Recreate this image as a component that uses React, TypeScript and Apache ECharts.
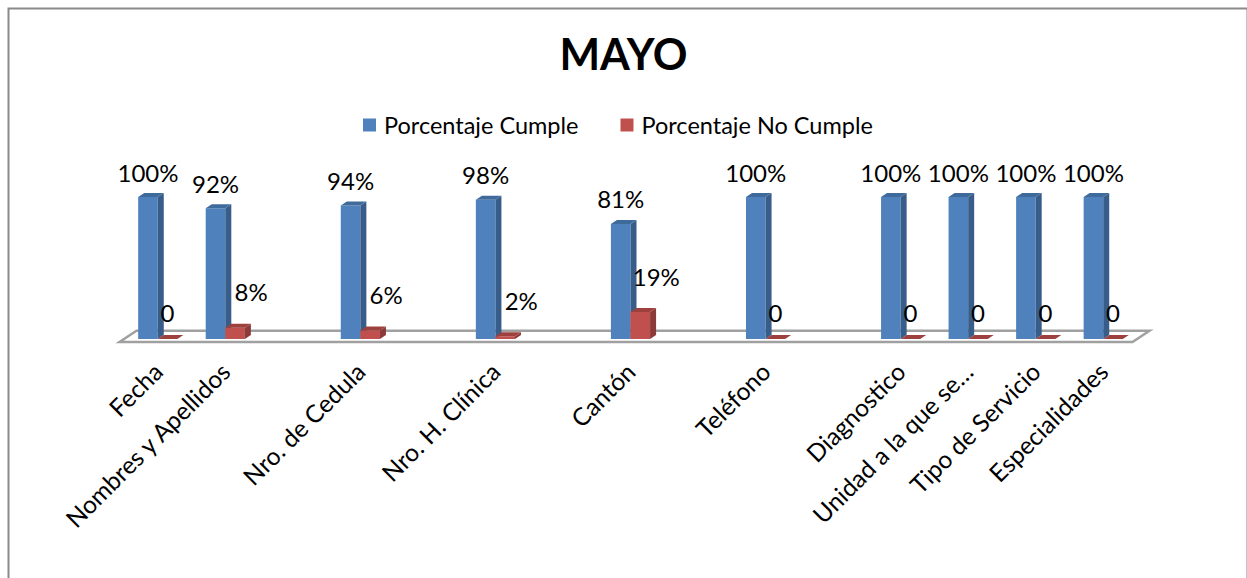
import React, { useEffect, useRef } from "react";
import * as echarts from "echarts";

// Categories along the x axis (blank entries leave an empty slot between groups)
const categories = [
  "Fecha",
  "Nombres y Apellidos",
  "",
  "Nro. de Cedula",
  "",
  "Nro. H. Clínica",
  "",
  "Cantón",
  "",
  "Teléfono",
  "",
  "Diagnostico",
  "Unidad a la que se…",
  "Tipo de Servicio",
  "Especialidades",
];

// Percent values per category (null = empty slot)
const porcentajeCumple = [100, 92, null, 94, null, 98, null, 81, null, 100, null, 100, 100, 100, 100];
const porcentajeNoCumple = [0, 8, null, 6, null, 2, null, 19, null, 0, null, 0, 0, 0, 0];

const seriesNames = ["Porcentaje Cumple", "Porcentaje No Cumple"];

const FONT = "Lato, 'Open Sans', sans-serif";

// Face colours for the pseudo-3D columns: front, side, top
const palettes = [
  { front: "#4F81BD", side: "#385D8A", top: "#3F6A9C" },
  { front: "#C0504D", side: "#8C3A38", top: "#9E403D" },
];

const DEPTH_X = 6;
const DEPTH_Y = -4;

function toPoints(values: (number | null)[]) {
  const out: number[][] = [];
  values.forEach((v, i) => {
    if (v !== null) out.push([i, v]);
  });
  return out;
}

function labelText(v: number) {
  return v === 0 ? "0" : `${v}%`;
}

function makeBarRenderer(seriesIndex: number) {
  const pal = palettes[seriesIndex];
  return (params: any, api: any) => {
    const idx = api.value(0);
    const v = api.value(1);
    const topPt = api.coord([idx, v]);
    const basePt = api.coord([idx, 0]);
    const band = api.size([1, 0])[0];
    const w = band * 0.29;
    const x0 = seriesIndex === 0 ? topPt[0] - w : topPt[0];
    const yTop = topPt[1];
    const yBase = basePt[1];
    const h = yBase - yTop;

    const children: any[] = [];
    if (h > 0.5) {
      children.push({
        type: "rect",
        shape: { x: x0, y: yTop, width: w, height: h },
        style: { fill: pal.front },
      });
      children.push({
        type: "polygon",
        shape: {
          points: [
            [x0 + w, yTop],
            [x0 + w + DEPTH_X, yTop + DEPTH_Y],
            [x0 + w + DEPTH_X, yBase + DEPTH_Y],
            [x0 + w, yBase],
          ],
        },
        style: { fill: pal.side },
      });
    }
    children.push({
      type: "polygon",
      shape: {
        points: [
          [x0, yTop],
          [x0 + DEPTH_X, yTop + DEPTH_Y],
          [x0 + w + DEPTH_X, yTop + DEPTH_Y],
          [x0 + w, yTop],
        ],
      },
      style: { fill: pal.top },
    });

    // value label: centred above the column, except non-zero "No Cumple"
    // labels which sit up and to the right of the short column
    let lx = x0 + w / 2;
    let ly = yTop - 25;
    if (seriesIndex === 1 && v !== 0) {
      lx = x0 + w / 2 + 16;
      ly = yTop - 36;
    } else if (v === 0) {
      ly = yTop - 27;
    }
    children.push({
      type: "text",
      x: lx,
      y: ly,
      style: {
        text: labelText(v),
        align: "center",
        verticalAlign: "middle",
        fontSize: 24,
        fontFamily: FONT,
        fill: "#000",
      },
    });
    return { type: "group", children };
  };
}

// Floor of the plot: a parallelogram under the columns
function renderFloor(params: any, api: any) {
  const first = api.coord([0, 0]);
  const last = api.coord([categories.length - 1, 0]);
  const band = api.size([1, 0])[0];
  const L = first[0] - band / 2;
  const R = last[0] + band / 2;
  const yb = first[1];
  return {
    type: "polygon",
    shape: {
      points: [
        [L - 4.5, yb + 3],
        [L + 12.5, yb - 8.3],
        [R + 12.5, yb - 8.3],
        [R - 4.5, yb + 3],
      ],
    },
    style: { fill: "#ffffff", stroke: "#A0A0A0", lineWidth: 2.5 },
  };
}

export default function App() {
  const ref = useRef<HTMLDivElement>(null);

  useEffect(() => {
    if (!ref.current) return;
    const chart = echarts.init(ref.current, undefined, { renderer: "svg" });
    chart.setOption({
      animation: false,
      backgroundColor: "#ffffff",
      title: {
        text: "MAYO",
        left: "center",
        top: 27,
        textStyle: { fontSize: 43, fontWeight: "bold", fontFamily: FONT, color: "#000" },
      },
      legend: {
        top: 108,
        left: 358,
        icon: "rect",
        itemWidth: 13,
        itemHeight: 13,
        itemGap: 42,
        data: seriesNames,
        textStyle: { fontSize: 23.5, fontFamily: FONT, color: "#000", padding: [0, 0, 0, 3] },
      },
      graphic: [
        {
          type: "rect",
          left: 6,
          top: 6,
          shape: { width: 1239, height: 600 },
          style: { fill: "none", stroke: "#8A8A8A", lineWidth: 2 },
          silent: true,
        },
      ],
      grid: { left: 124, right: 110, top: 197, bottom: 239 },
      xAxis: {
        type: "category",
        data: categories,
        axisLine: { show: false },
        axisTick: { show: false },
        axisLabel: {
          interval: 0,
          rotate: 45,
          margin: 28,
          fontSize: 24.5,
          fontFamily: FONT,
          color: "#000",
        },
      },
      yAxis: { type: "value", min: 0, max: 100, show: false },
      series: [
        {
          type: "custom",
          name: "floor",
          data: [[0, 0]],
          renderItem: renderFloor,
          silent: true,
          z: 1,
        },
        {
          type: "custom",
          name: seriesNames[0],
          data: toPoints(porcentajeCumple),
          encode: { x: 0, y: 1 },
          renderItem: makeBarRenderer(0),
          itemStyle: { color: palettes[0].front },
          z: 2,
        },
        {
          type: "custom",
          name: seriesNames[1],
          data: toPoints(porcentajeNoCumple),
          encode: { x: 0, y: 1 },
          renderItem: makeBarRenderer(1),
          itemStyle: { color: palettes[1].front },
          z: 3,
        },
      ],
    });
    return () => chart.dispose();
  }, []);

  return (
    <div
      ref={ref}
      style={{ position: "absolute", left: 0, top: 0, width: 1247, height: 578 }}
    />
  );
}
